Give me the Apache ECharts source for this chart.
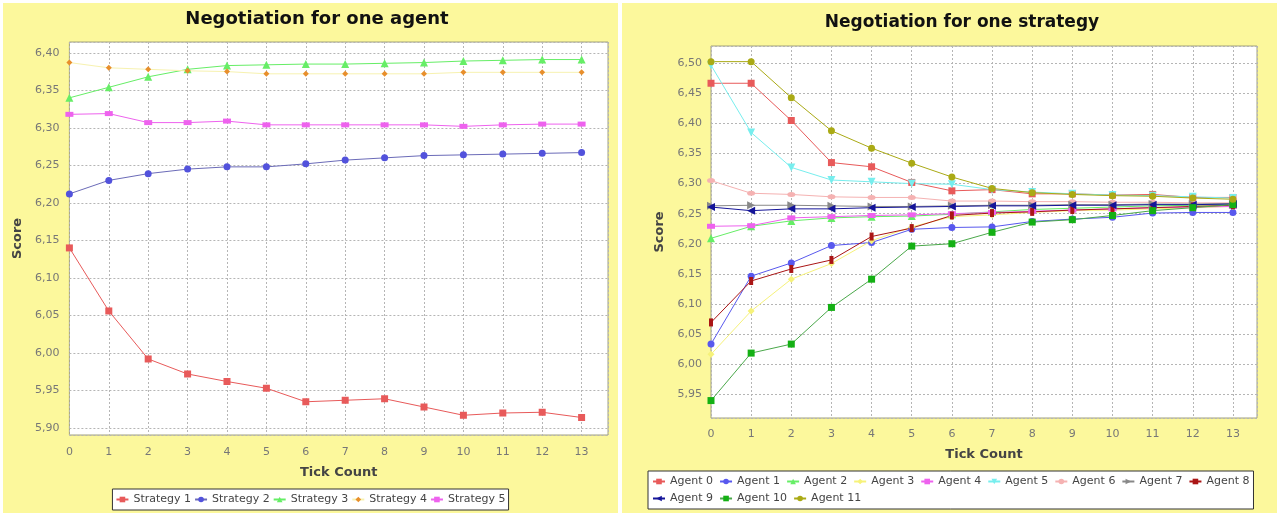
<!DOCTYPE html>
<html>
<head>
<meta charset="utf-8">
<title>Negotiation</title>
<script src="https://cdn.jsdelivr.net/npm/echarts/dist/echarts.min.js"></script>
<style>
    html, body { margin: 0; padding: 0; background: #ffffff; }
    #wrap { position: relative; width: 1279px; height: 515px; overflow: hidden; }
    .panel { position: absolute; background: #fcf89c; }
    #leftchart { left: 3px; top: 3px; width: 615px; height: 510px; }
    #rightchart { left: 622px; top: 3px; width: 655px; height: 510px; }
</style>
</head>
<body>
<div id="wrap">
    <div id="leftchart" class="panel"></div>
    <div id="rightchart" class="panel"></div>
</div>
<script>
// x 轴：Tick Count
var ticks = [0, 1, 2, 3, 4, 5, 6, 7, 8, 9, 10, 11, 12, 13];

// 左图：Negotiation for one agent
var strategy1 = [6.140, 6.056, 5.992, 5.972, 5.962, 5.953, 5.935, 5.937, 5.939, 5.928, 5.917, 5.920, 5.921, 5.914];
var strategy2 = [6.212, 6.230, 6.239, 6.245, 6.248, 6.248, 6.252, 6.257, 6.260, 6.263, 6.264, 6.265, 6.266, 6.267];
var strategy3 = [6.340, 6.354, 6.368, 6.378, 6.383, 6.384, 6.385, 6.385, 6.386, 6.387, 6.389, 6.390, 6.391, 6.391];
var strategy4 = [6.387, 6.380, 6.378, 6.376, 6.375, 6.372, 6.372, 6.372, 6.372, 6.372, 6.374, 6.374, 6.374, 6.374];
var strategy5 = [6.318, 6.319, 6.307, 6.307, 6.309, 6.304, 6.304, 6.304, 6.304, 6.304, 6.302, 6.304, 6.305, 6.305];

// 右图：Negotiation for one strategy
var agent0 = [6.467, 6.467, 6.405, 6.335, 6.328, 6.302, 6.288, 6.290, 6.283, 6.283, 6.281, 6.282, 6.277, 6.277];
var agent1 = [6.033, 6.146, 6.168, 6.197, 6.202, 6.224, 6.227, 6.228, 6.237, 6.241, 6.244, 6.251, 6.252, 6.252];
var agent2 = [6.209, 6.229, 6.238, 6.243, 6.245, 6.246, 6.249, 6.253, 6.257, 6.259, 6.261, 6.263, 6.264, 6.265];
var agent3 = [6.016, 6.088, 6.141, 6.167, 6.205, 6.228, 6.245, 6.248, 6.252, 6.255, 6.256, 6.258, 6.260, 6.262];
var agent4 = [6.229, 6.230, 6.243, 6.245, 6.247, 6.248, 6.250, 6.252, 6.254, 6.256, 6.258, 6.260, 6.261, 6.262];
var agent5 = [6.497, 6.385, 6.327, 6.306, 6.303, 6.300, 6.299, 6.290, 6.286, 6.283, 6.281, 6.280, 6.278, 6.276];
var agent6 = [6.305, 6.284, 6.282, 6.278, 6.277, 6.277, 6.271, 6.271, 6.270, 6.270, 6.269, 6.269, 6.268, 6.268];
var agent7 = [6.263, 6.264, 6.264, 6.263, 6.262, 6.262, 6.263, 6.264, 6.264, 6.265, 6.265, 6.266, 6.266, 6.267];
var agent8 = [6.069, 6.138, 6.158, 6.173, 6.212, 6.226, 6.247, 6.251, 6.253, 6.256, 6.258, 6.260, 6.262, 6.264];
var agent9 = [6.261, 6.255, 6.258, 6.258, 6.260, 6.261, 6.262, 6.263, 6.263, 6.264, 6.264, 6.265, 6.265, 6.266];
var agent10 = [5.939, 6.018, 6.033, 6.094, 6.141, 6.196, 6.200, 6.219, 6.236, 6.240, 6.247, 6.255, 6.260, 6.265];
var agent11 = [6.503, 6.503, 6.443, 6.388, 6.359, 6.334, 6.311, 6.292, 6.285, 6.282, 6.280, 6.279, 6.276, 6.274];

var FONT = 'DejaVu Sans';

// 把数组配成 [x, y]
function pairs(values) {
    var list = [];
    for (var i = 0; i < values.length; i++) {
        list.push([ticks[i], values[i]]);
    }
    return list;
}

function makeSeries(name, values, color, symbol, size, rotate, lineColor) {
    return {
        name: name,
        type: 'line',
        data: pairs(values),
        symbol: symbol,
        symbolSize: size,
        symbolRotate: rotate || 0,
        showAllSymbol: true,
        animation: false,
        itemStyle: { color: color },
        lineStyle: { color: lineColor || color, width: 1 },
        emphasis: { disabled: true }
    };
}

// y 轴标签 6,40 这种格式，边界上的刻度不显示
function yLabel(v) {
    var r = Math.round(v * 20) / 20;
    if (Math.abs(v - r) > 1e-6) return '';
    return r.toFixed(2).replace('.', ',');
}
function xLabel(v) {
    if (Math.abs(v - Math.round(v)) > 1e-6) return '';
    return String(Math.round(v));
}

function baseOption(cfg) {
    return {
        animation: false,
        textStyle: { fontFamily: FONT },
        title: {
            text: cfg.title,
            left: cfg.titleX,
            top: cfg.titleY,
            textAlign: 'center',
            textStyle: { fontFamily: FONT, fontSize: cfg.titleSize, fontWeight: 'bold', color: '#111' }
        },
        grid: {
            left: cfg.grid[0], top: cfg.grid[1], width: cfg.grid[2], height: cfg.grid[3],
            show: true, backgroundColor: '#ffffff', borderColor: '#a3a27a', borderWidth: 1,
            containLabel: false
        },
        legend: cfg.legend,
        xAxis: {
            type: 'value',
            min: 0,
            max: cfg.xMax,
            interval: 1,
            name: 'Tick Count',
            nameLocation: 'middle',
            nameGap: cfg.xNameGap,
            nameTextStyle: { fontFamily: FONT, fontSize: 13, fontWeight: 'bold', color: '#444' },
            axisLine: { show: false },
            axisTick: { show: false },
            axisLabel: { formatter: xLabel, margin: cfg.xMargin, fontSize: 11, color: '#777', fontFamily: FONT },
            splitLine: { show: true, lineStyle: { color: '#b5b5b5', type: [2, 2], width: 1 } }
        },
        yAxis: {
            type: 'value',
            min: cfg.yMin,
            max: cfg.yMax,
            splitNumber: cfg.split,
            name: 'Score',
            nameLocation: 'middle',
            nameGap: cfg.yNameGap,
            nameTextStyle: { fontFamily: FONT, fontSize: 13, fontWeight: 'bold', color: '#444' },
            axisLine: { show: false },
            axisTick: { show: false },
            axisLabel: { formatter: yLabel, margin: cfg.yMargin, fontSize: 11, color: '#777', fontFamily: FONT },
            splitLine: { show: true, lineStyle: { color: '#b5b5b5', type: [2, 2], width: 1 } }
        },
        series: cfg.series
    };
}

// 左图
var leftChart = echarts.init(document.getElementById('leftchart'));
leftChart.setOption(baseOption({
    title: 'Negotiation for one agent',
    titleX: 309, titleY: 2, titleSize: 18,
    grid: [64, 39, 541, 393],
    xMax: 13.67, xNameGap: 31, xMargin: 12,
    yMin: 5.8907, yMax: 6.4144, split: 10, yNameGap: 39, yMargin: 10,
    legend: {
        left: 'center', top: 486,
        padding: [5, 3], itemGap: 3, itemWidth: 12, itemHeight: 7,
        borderColor: '#333', borderWidth: 1, backgroundColor: '#ffffff',
        textStyle: { fontFamily: FONT, fontSize: 11, color: '#444' }
    },
    series: [
        makeSeries('Strategy 1', strategy1, '#e85a5a', 'rect', 7),
        makeSeries('Strategy 2', strategy2, '#5252dc', 'circle', 7, 0, '#6b6bb8'),
        makeSeries('Strategy 3', strategy3, '#66ee66', 'triangle', 8),
        makeSeries('Strategy 4', strategy4, '#e88f2c', 'diamond', 6, 0, '#f7f2b0'),
        makeSeries('Strategy 5', strategy5, '#ee62ee', 'rect', [8, 5])
    ]
}));

// 右图
var rightChart = echarts.init(document.getElementById('rightchart'));
rightChart.setOption(baseOption({
    title: 'Negotiation for one strategy',
    titleX: 335, titleY: 6, titleSize: 17,
    grid: [89, 43, 546, 372],
    xMax: 13.6, xNameGap: 30, xMargin: 11,
    yMin: 5.910, yMax: 6.529, split: 12, yNameGap: 43, yMargin: 9,
    legend: {
        left: 26, top: 468, width: 602,
        padding: [5, 4], itemGap: 6, itemWidth: 12, itemHeight: 7,
        borderColor: '#333', borderWidth: 1, backgroundColor: '#ffffff',
        textStyle: { fontFamily: FONT, fontSize: 11, color: '#444' }
    },
    series: [
        makeSeries('Agent 0', agent0, '#e85a5a', 'rect', 7),
        makeSeries('Agent 1', agent1, '#5858ee', 'circle', 7),
        makeSeries('Agent 2', agent2, '#66ee66', 'triangle', 8),
        makeSeries('Agent 3', agent3, '#f6f27a', 'diamond', 7),
        makeSeries('Agent 4', agent4, '#ee62ee', 'rect', [8, 5]),
        makeSeries('Agent 5', agent5, '#77eeee', 'triangle', 8, 180),
        makeSeries('Agent 6', agent6, '#f5b2b2', 'circle', [8, 5]),
        makeSeries('Agent 7', agent7, '#888888', 'triangle', 8, -90),
        makeSeries('Agent 8', agent8, '#aa1515', 'rect', [4, 8]),
        makeSeries('Agent 9', agent9, '#151599', 'triangle', 8, 90),
        makeSeries('Agent 10', agent10, '#14b014', 'rect', 7, 0, '#4aa84a'),
        makeSeries('Agent 11', agent11, '#aaaa15', 'circle', 7)
    ]
}));
</script>
</body>
</html>
